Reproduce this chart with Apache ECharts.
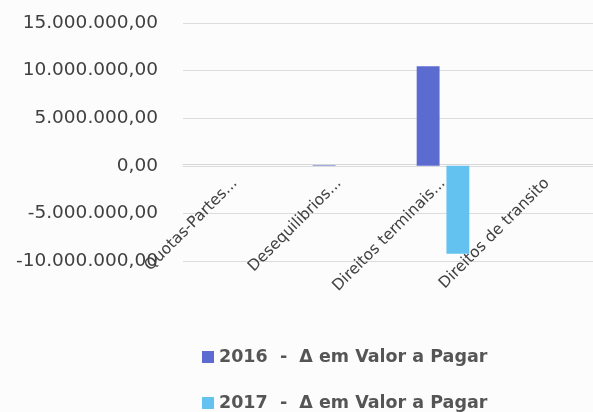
<!DOCTYPE html>
<html lang="pt">
<head>
    <meta charset="UTF-8">
    <title>Δ em Valor a Pagar</title>
    <script type="text/javascript" src="https://cdn.jsdelivr.net/npm/echarts@6/dist/echarts.min.js"></script>
    <style>
        html, body {
            width: 100%;
            height: 100%;
            margin: 0;
            padding: 0;
            background: #fcfcfc;
        }
        #main {
            width: 593px;
            height: 412px;
        }
    </style>
</head>
<body>
    <div id="main"></div>
    <script>
        var categories = ['Quotas-Partes...', 'Desequilibrios...', 'Direitos terminais...', 'Direitos de transito'];
        var values2016 = [0, 60000, 10450000, 0];
        var values2017 = [0, 0, -9250000, 0];
        var seriesNames = ['2016  -  Δ em Valor a Pagar', '2017  -  Δ em Valor a Pagar'];
        var yTicks = { min: -10000000, max: 15000000, step: 5000000 };

        // formato pt: 15.000.000,00
        function fmt(v) {
            var neg = v < 0;
            var s = Math.abs(v).toFixed(0).replace(/\B(?=(\d{3})+(?!\d))/g, '.');
            return (neg ? '-' : '') + s + ',00';
        }

        var myChart = echarts.init(document.getElementById('main'));
        var labelColor = '#404040';
        var legendText = {
            fontFamily: 'DejaVu Sans',
            fontWeight: 'bold',
            fontSize: 17.5,
            color: '#555'
        };

        var option = {
            backgroundColor: '#fcfcfc',
            animation: false,
            // duas legendas, uma por linha
            legend: [{
                left: 197,
                top: 343,
                itemWidth: 12,
                itemHeight: 12,
                icon: 'rect',
                textStyle: legendText,
                data: [seriesNames[0]]
            }, {
                left: 197,
                top: 389,
                itemWidth: 12,
                itemHeight: 12,
                icon: 'rect',
                textStyle: legendText,
                data: [seriesNames[1]]
            }],
            grid: {
                left: 183,
                right: -6,
                top: 23,
                bottom: 151,
                outerBoundsMode: 'none'
            },
            xAxis: {
                type: 'category',
                data: categories,
                offset: -97, // eixo no zero
                axisTick: { show: false },
                axisLine: { onZero: false, lineStyle: { color: '#d6d6d6' } },
                axisLabel: {
                    rotate: 45,
                    interval: 0,
                    margin: 17,
                    color: labelColor,
                    fontFamily: 'DejaVu Sans',
                    fontSize: 15.5
                }
            },
            yAxis: {
                type: 'value',
                min: yTicks.min,
                max: yTicks.max,
                interval: yTicks.step,
                axisLine: { show: false },
                axisTick: { show: false },
                splitLine: { lineStyle: { color: '#dcdcdc' } },
                axisLabel: {
                    formatter: fmt,
                    margin: 25,
                    color: labelColor,
                    fontFamily: 'DejaVu Sans',
                    fontSize: 18.5
                }
            },
            series: [{
                name: seriesNames[0],
                type: 'bar',
                data: values2016,
                barWidth: '22%',
                barGap: '30%',
                itemStyle: { color: '#5b6bd0' }
            }, {
                name: seriesNames[1],
                type: 'bar',
                data: values2017,
                barWidth: '22%',
                itemStyle: { color: '#63c2ef' }
            }]
        };
        myChart.setOption(option);

        window.addEventListener('resize', function() {
            myChart.resize();
        });
    </script>
</body>
</html>
